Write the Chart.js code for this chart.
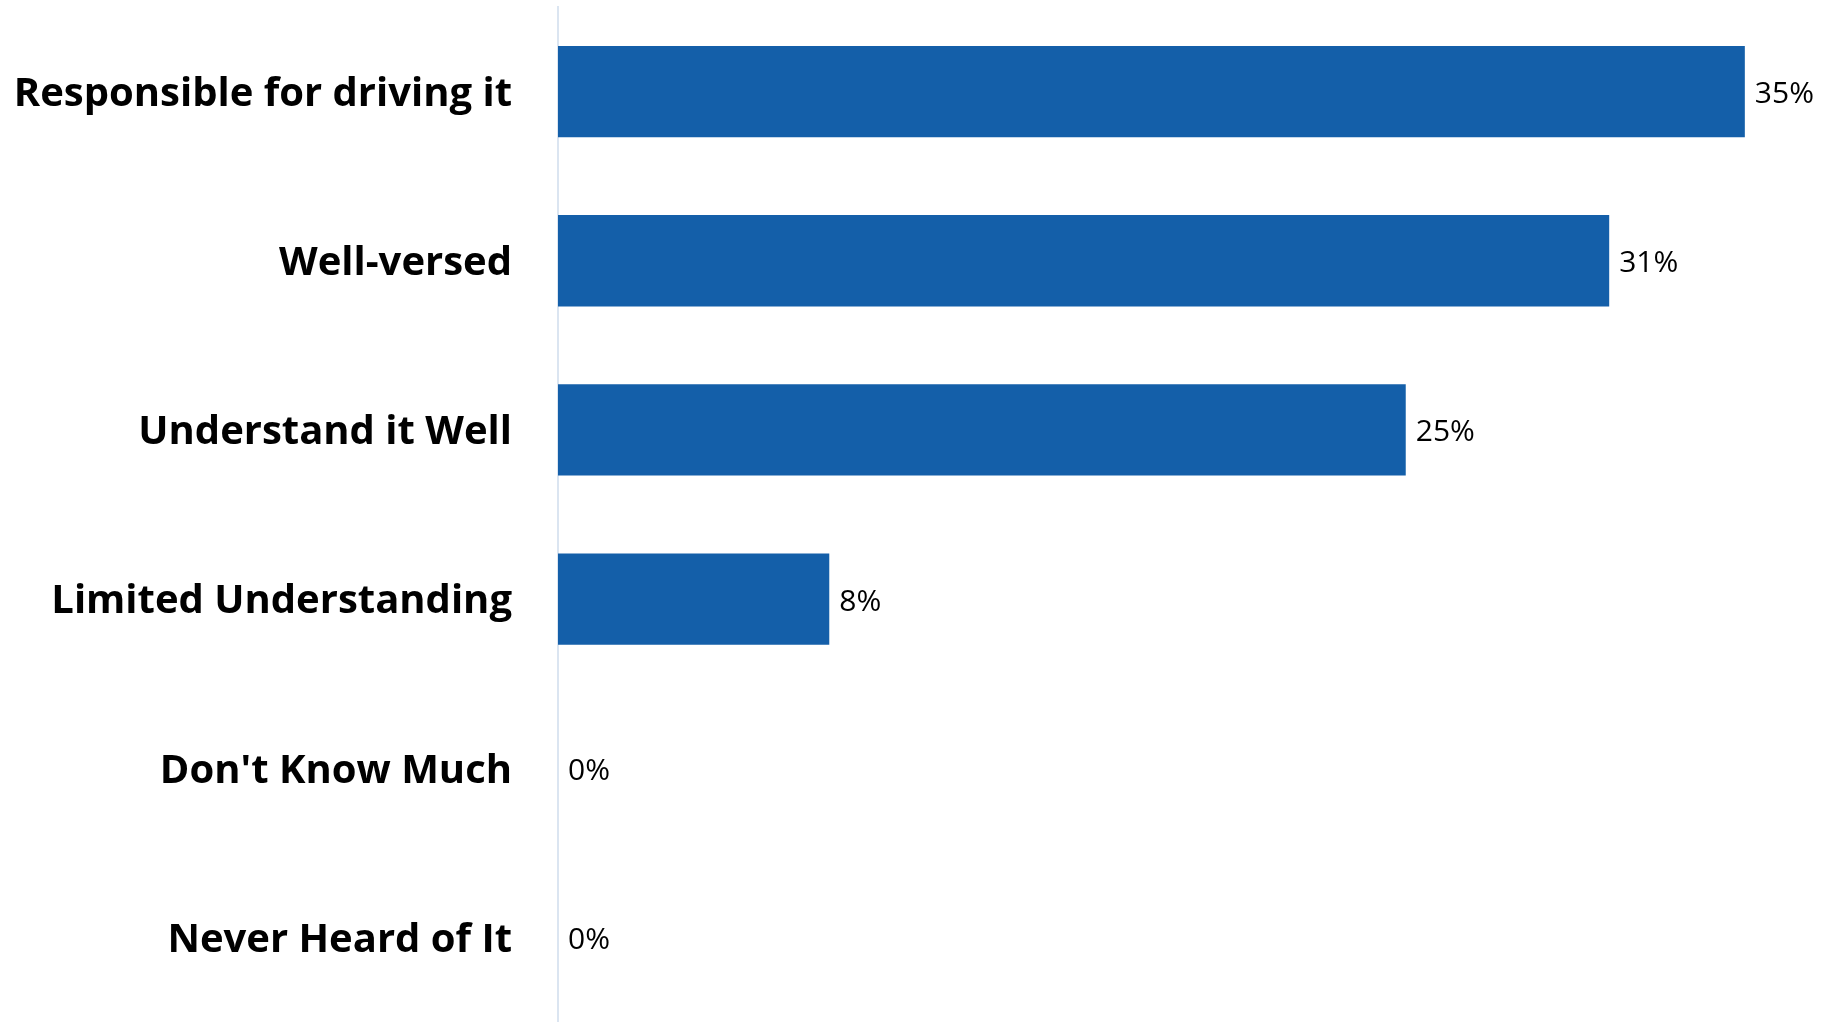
<!DOCTYPE html>
<html>
<head>
<meta charset="utf-8">
<script src="https://cdn.jsdelivr.net/npm/chart.js@4/dist/chart.umd.min.js"></script>
<style>
  html, body { margin: 0; padding: 0; background: #fff; }
  #chart-container { width: 1833px; height: 1022px; position: relative; }
</style>
</head>
<body>
<div id="chart-container">
  <canvas id="awareness-chart"></canvas>
</div>
<script>
// Survey answers, top to bottom
const categories = [
  'Responsible for driving it',
  'Well-versed',
  'Understand it Well',
  'Limited Understanding',
  "Don't Know Much",
  'Never Heard of It'
];
// Share of respondents (%)
const shares = [35, 31, 25, 8, 0, 0];

const barColor = '#145FA9';

// Draw "NN%" to the right of each bar
const valueLabels = {
  id: 'valueLabels',
  afterDatasetsDraw(chart) {
    const { ctx } = chart;
    const meta = chart.getDatasetMeta(0);
    ctx.save();
    ctx.font = '30px "Open Sans"';
    ctx.fillStyle = '#000';
    ctx.textAlign = 'left';
    ctx.textBaseline = 'middle';
    meta.data.forEach((bar, i) => {
      ctx.fillText(shares[i] + '%', bar.x + 10, bar.y + 3);
    });
    ctx.restore();
  }
};

const ctx = document.getElementById('awareness-chart');
new Chart(ctx, {
  type: 'bar',
  data: {
    labels: categories,
    datasets: [{
      data: shares,
      backgroundColor: barColor,
      borderWidth: 0,
      barPercentage: 1,
      categoryPercentage: 0.54
    }]
  },
  options: {
    indexAxis: 'y',
    responsive: true,
    maintainAspectRatio: false,
    animation: false,
    layout: {
      padding: { top: 7, right: 0, bottom: 0, left: 0 }
    },
    scales: {
      x: {
        display: false,
        min: 0,
        max: 37.6
      },
      y: {
        // fixed axis width, and no extra room above/below for the tick labels
        afterFit: (scale) => {
          scale.width = 558;
          scale.paddingTop = 0;
          scale.paddingBottom = 0;
        },
        grid: { drawTicks: false, color: 'rgba(0,0,0,0)' },
        border: { display: true, color: '#dbe5f1', width: 2 },
        ticks: {
          padding: 46,
          labelOffset: 3,
          color: '#000',
          font: { family: '"Open Sans"', weight: 'bold', size: 40 }
        }
      }
    },
    plugins: {
      legend: { display: false },
      tooltip: { enabled: false }
    }
  },
  plugins: [valueLabels]
});
</script>
</body>
</html>
